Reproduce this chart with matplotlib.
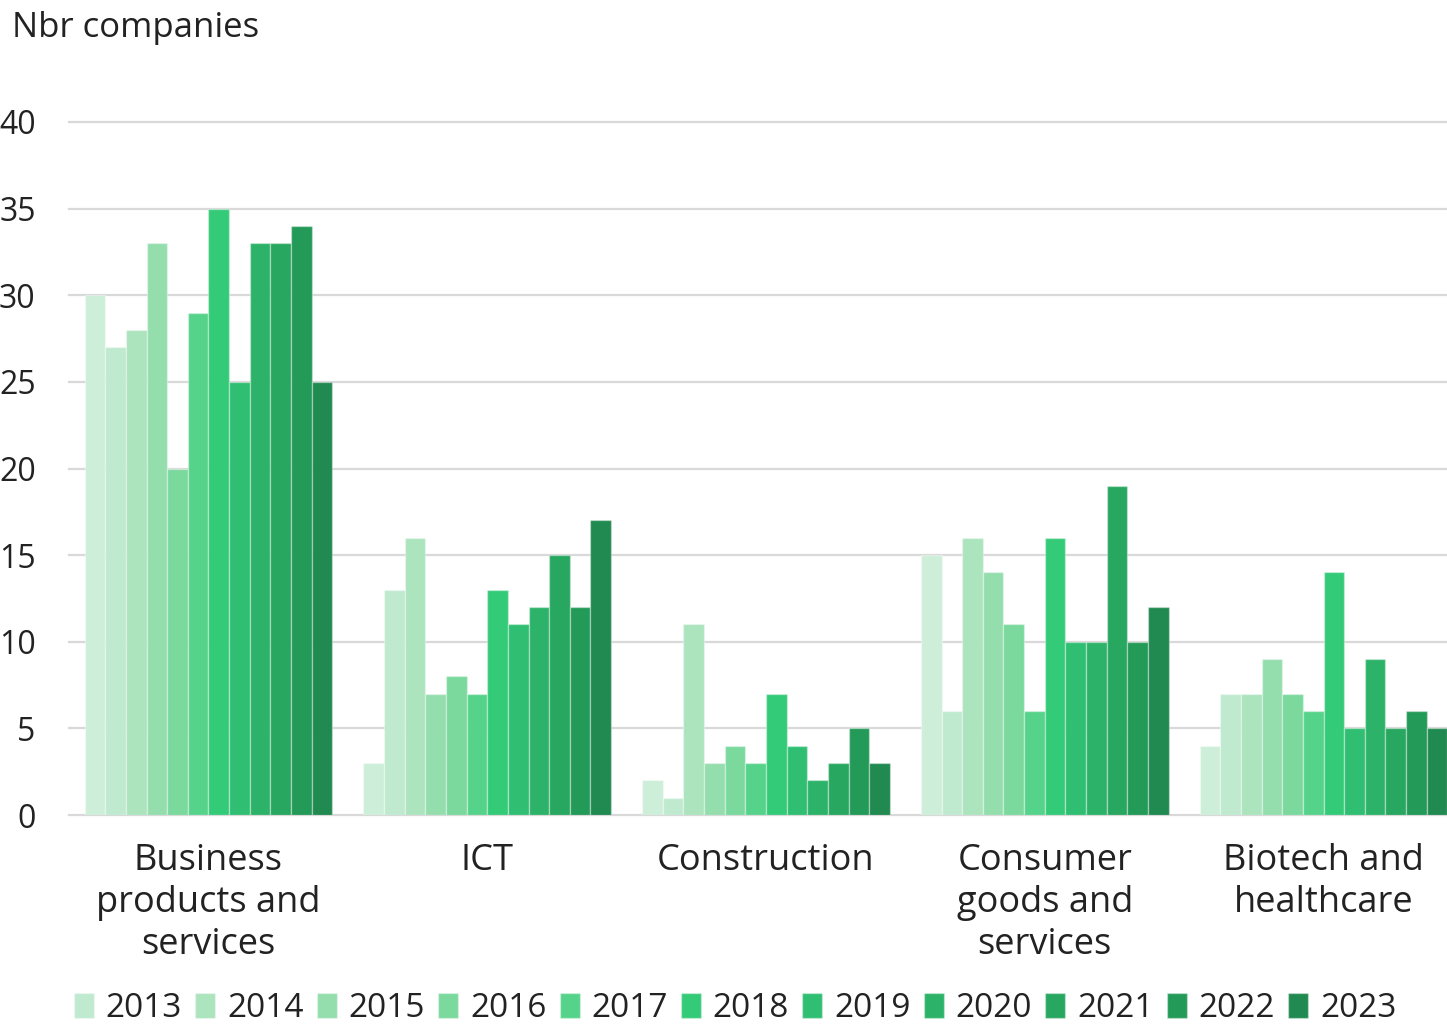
import matplotlib.pyplot as plt
import numpy as np

plt.rcParams['font.family'] = ['Open Sans', 'DejaVu Sans']

categories = ["Business\nproducts and\nservices", "ICT", "Construction",
              "Consumer\ngoods and\nservices", "Biotech and\nhealthcare"]
years = ["2012", "2013", "2014", "2015", "2016", "2017",
         "2018", "2019", "2020", "2021", "2022", "2023"]

# one row per category, one value per year
business = [30, 27, 28, 33, 20, 29, 35, 25, 33, 33, 34, 25]
ict = [3, 13, 16, 7, 8, 7, 13, 11, 12, 15, 12, 17]
construction = [2, 1, 11, 3, 4, 3, 7, 4, 2, 3, 5, 3]
consumer = [15, 6, 16, 14, 11, 6, 16, 10, 10, 19, 10, 12]
biotech = [4, 7, 7, 9, 7, 6, 14, 5, 9, 5, 6, 5]

colors = ["#cdeed8", "#bfead0", "#acE4be", "#94deae", "#7bd99e", "#56d38a",
          "#34cb78", "#30bf72", "#2cb369", "#28a760", "#249a58", "#208a50"]

data = np.array([business, ict, construction, consumer, biotech])
text_col = "#222222"

fig = plt.figure(figsize=(14.47, 10.25), dpi=100)
ax = fig.add_axes([69 / 1447, 1 - 815 / 1025, 1 - 69 / 1447, (815 - 122) / 1025])

n = len(years)
group_w = 248 / 279
bar_w = group_w / n
x = np.arange(len(categories))
bars = []
for i, yr in enumerate(years):
    offs = -group_w / 2 + (i + 0.5) * bar_w
    b = ax.bar(x + offs, data[:, i], bar_w, color=colors[i], label=yr,
               edgecolor=(1, 1, 1, 0.35), linewidth=1, zorder=3)
    bars.append(b)

ax.set_ylim(0, 40)
ax.set_xlim(-0.5004, 4.443)
ax.set_yticks(np.arange(0, 41, 5))
ax.yaxis.grid(True, color="#d9d9d9", linewidth=1.6, zorder=0)
for ln in ax.get_ygridlines():
    ln.set_clip_on(False)
ax.set_axisbelow(True)
for s in ax.spines.values():
    s.set_visible(False)
ax.tick_params(axis='y', length=0, pad=24, labelsize=23, labelcolor=text_col)
ax.tick_params(axis='x', length=0, pad=20, labelsize=26, labelcolor=text_col)
ax.set_xticks(x)
ax.set_xticklabels(categories, linespacing=1.22, va='top')

fig.text(12 / 1447, 1 - 11 / 1025, "Nbr companies", ha='left', va='top',
         fontsize=25, color=text_col)

# the legend of the source only shows 2013-2023
leg = fig.legend(bars[1:], years[1:], loc='center', bbox_to_anchor=(0.508, 0.016),
                 ncol=11, frameon=False, fontsize=24, handlelength=0.6,
                 handleheight=0.8, handletextpad=0.35, columnspacing=0.4,
                 labelcolor=text_col)

fig.savefig("out.png", dpi=100)
